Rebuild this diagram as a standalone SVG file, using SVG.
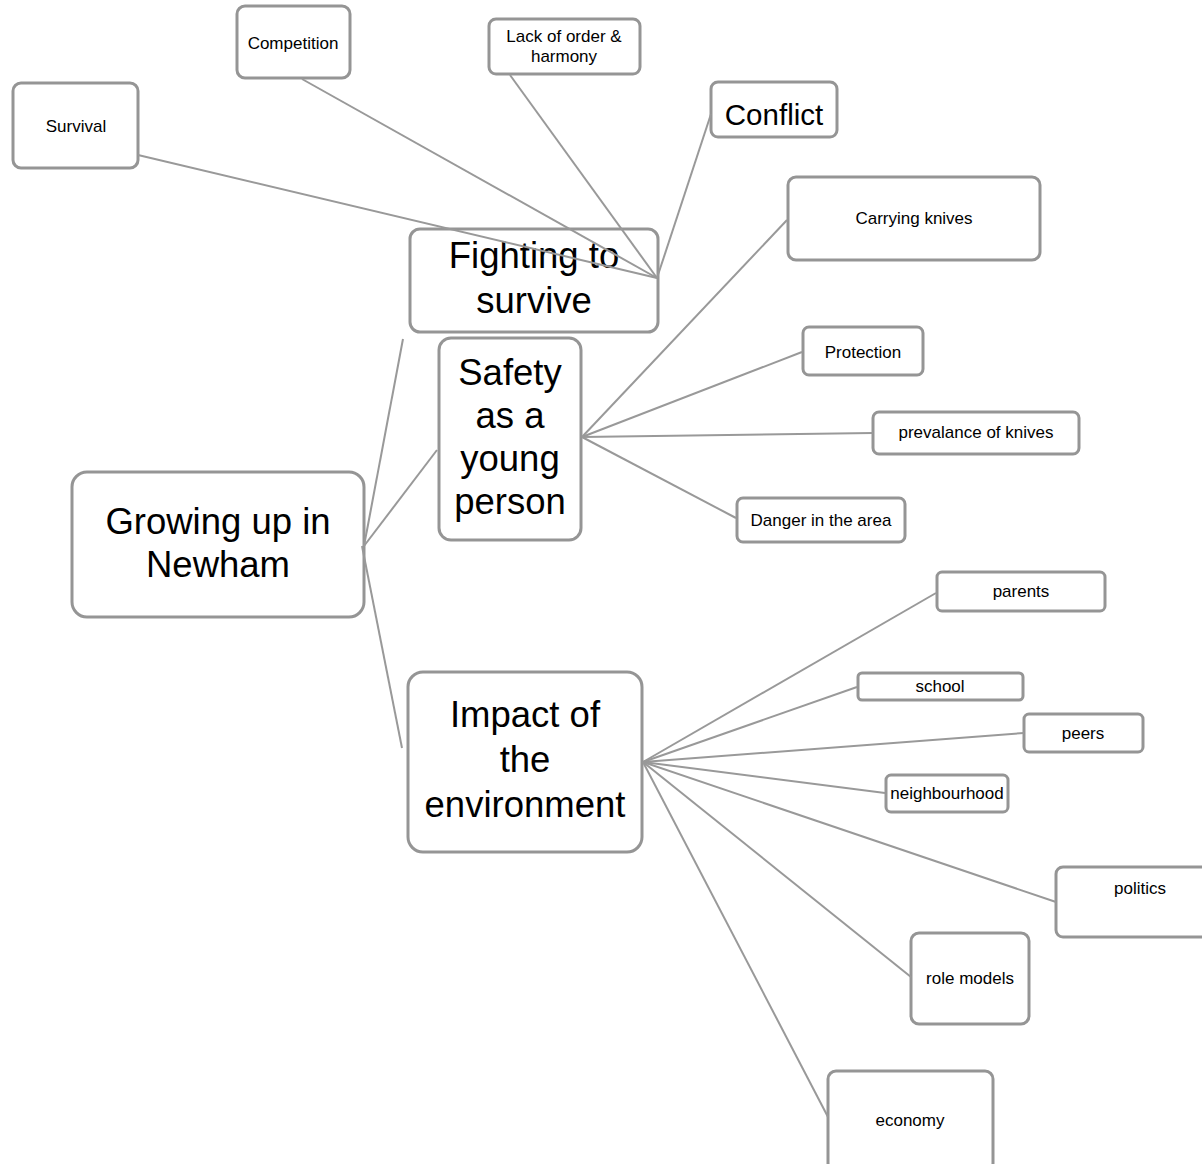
<svg xmlns="http://www.w3.org/2000/svg" width="1202" height="1164" viewBox="0 0 1202 1164">
<style>
.box{fill:#ffffff;stroke:#959595;stroke-width:3}
.ln{stroke:#999999;stroke-width:2;fill:none}
text{font-family:"Liberation Sans",Arial,sans-serif;fill:#000;text-anchor:middle}
.s{font-size:17px}
.b{font-size:36.5px}
</style>
<rect width="1202" height="1164" fill="#ffffff"/>
<g id="nodes">
<g id="survival"><rect class="box" x="13" y="83" width="125" height="85" rx="8"/><text class="s" x="76" y="132">Survival</text></g>
<g id="competition"><rect class="box" x="237" y="6" width="113" height="72" rx="8"/><text class="s" x="293" y="49">Competition</text></g>
<g id="lack"><rect class="box" x="489" y="19" width="151" height="55" rx="7"/><text class="s" x="564" y="42">Lack of order &amp;</text><text class="s" x="564" y="62">harmony</text></g>
<g id="conflict"><rect class="box" x="711" y="82" width="126" height="55" rx="7"/><text x="774" y="125" style="font-size:29.5px">Conflict</text></g>
<g id="fighting"><rect class="box" x="410" y="229" width="248" height="103" rx="10"/><text class="b" x="534" y="268">Fighting to</text><text class="b" x="534" y="313">survive</text></g>
<g id="carrying"><rect class="box" x="788" y="177" width="252" height="83" rx="8"/><text class="s" x="914" y="224">Carrying knives</text></g>
<g id="protection"><rect class="box" x="803" y="327" width="120" height="48" rx="6"/><text class="s" x="863" y="358">Protection</text></g>
<g id="prevalance"><rect class="box" x="873" y="412" width="206" height="42" rx="6"/><text class="s" x="976" y="438">prevalance of knives</text></g>
<g id="danger"><rect class="box" x="737" y="498" width="168" height="44" rx="6"/><text class="s" x="821" y="526">Danger in the area</text></g>
<g id="safety"><rect class="box" x="439" y="338" width="142" height="202" rx="12"/><text class="b" x="510" y="385">Safety</text><text class="b" x="510" y="428">as a</text><text class="b" x="510" y="471">young</text><text class="b" x="510" y="514">person</text></g>
<g id="growing"><rect class="box" x="72" y="472" width="292" height="145" rx="15"/><text class="b" x="218" y="534">Growing up in</text><text class="b" x="218" y="577">Newham</text></g>
<g id="impact"><rect class="box" x="408" y="672" width="234" height="180" rx="15"/><text class="b" x="525" y="727">Impact of</text><text class="b" x="525" y="772">the</text><text class="b" x="525" y="817">environment</text></g>
<g id="parents"><rect class="box" x="937" y="572" width="168" height="39" rx="5"/><text class="s" x="1021" y="597">parents</text></g>
<g id="school"><rect class="box" x="858" y="673" width="165" height="27" rx="4"/><text class="s" x="940" y="692">school</text></g>
<g id="peers"><rect class="box" x="1024" y="714" width="119" height="38" rx="5"/><text class="s" x="1083" y="739">peers</text></g>
<g id="neighbourhood"><rect class="box" x="886" y="775" width="122" height="37" rx="5"/><text class="s" x="947" y="799">neighbourhood</text></g>
<g id="politics"><rect class="box" x="1056" y="867" width="160" height="70" rx="7"/><text class="s" x="1140" y="894">politics</text></g>
<g id="rolemodels"><rect class="box" x="911" y="933" width="118" height="91" rx="8"/><text class="s" x="970" y="984">role models</text></g>
<g id="economy"><rect class="box" x="828" y="1071" width="165" height="100" rx="8"/><text class="s" x="910" y="1126">economy</text></g>
</g>
<g id="connectors">
<line class="ln" x1="138" y1="155" x2="657" y2="278"/>
<line class="ln" x1="302" y1="79" x2="657" y2="278"/>
<line class="ln" x1="510" y1="75" x2="657" y2="278"/>
<line class="ln" x1="711" y1="114" x2="657" y2="278"/>
<line class="ln" x1="787" y1="220" x2="582" y2="437"/>
<line class="ln" x1="802" y1="352" x2="582" y2="437"/>
<line class="ln" x1="873" y1="433" x2="582" y2="437"/>
<line class="ln" x1="736" y1="518" x2="582" y2="437"/>
<line class="ln" x1="403" y1="339" x2="364" y2="546"/>
<line class="ln" x1="437" y1="450" x2="364" y2="546"/>
<line class="ln" x1="402" y1="748" x2="362" y2="546"/>
<line class="ln" x1="936" y1="593" x2="643" y2="762"/>
<line class="ln" x1="857" y1="687" x2="643" y2="762"/>
<line class="ln" x1="1024" y1="733" x2="643" y2="762"/>
<line class="ln" x1="885" y1="793" x2="643" y2="762"/>
<line class="ln" x1="1056" y1="902" x2="643" y2="762"/>
<line class="ln" x1="911" y1="977" x2="643" y2="762"/>
<line class="ln" x1="828" y1="1117" x2="643" y2="762"/>
</g>
</svg>
